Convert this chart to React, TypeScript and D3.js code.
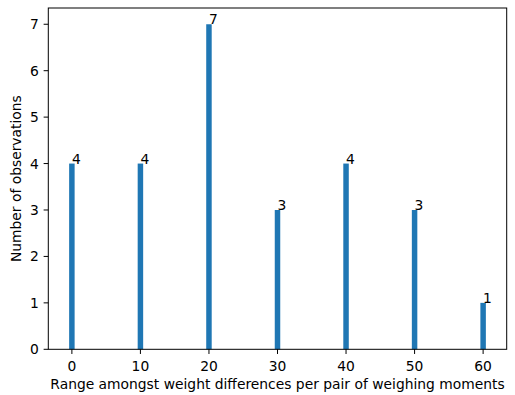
import React, { useEffect, useRef } from 'react';
import * as d3 from 'd3';

const ranges = [0, 10, 20, 30, 40, 50, 60];
const counts = [4, 4, 7, 3, 4, 3, 1];
const xTicks = [0, 10, 20, 30, 40, 50, 60];
const yTicks = [0, 1, 2, 3, 4, 5, 6, 7];

function App() {
  const svgRef = useRef<SVGSVGElement>(null);

  useEffect(() => {
    const svg = d3.select(svgRef.current);
    svg.selectAll('*').remove();

    const left = 48.3, right = 506.7, top = 8, bottom = 349.3;
    const barW = 0.8;
    const font = 'DejaVu Sans, sans-serif';
    const fs = 13.85;

    const xMin = d3.min(ranges)! - barW / 2;
    const xMax = d3.max(ranges)! + barW / 2;
    const pad = (xMax - xMin) * 0.05;
    const x = d3.scaleLinear().domain([xMin - pad, xMax + pad]).range([left, right]);
    const y = d3.scaleLinear().domain([0, d3.max(counts)! * 1.05]).range([bottom, top]);

    svg.append('rect')
      .attr('width', 515).attr('height', 395).attr('fill', '#fff');

    // bars
    svg.append('g')
      .selectAll('rect')
      .data(ranges)
      .enter().append('rect')
      .attr('x', d => x(d - barW / 2))
      .attr('y', (d, i) => y(counts[i]))
      .attr('width', d => x(d + barW / 2) - x(d - barW / 2))
      .attr('height', (d, i) => y(0) - y(counts[i]))
      .attr('fill', '#1f77b4');

    // value labels
    svg.append('g')
      .selectAll('text')
      .data(ranges)
      .enter().append('text')
      .attr('x', d => x(d))
      .attr('y', (d, i) => y(counts[i]))
      .attr('font-family', font)
      .attr('font-size', fs)
      .attr('fill', '#000')
      .text((d, i) => counts[i]);

    // frame
    svg.append('rect')
      .attr('x', left).attr('y', top)
      .attr('width', right - left).attr('height', bottom - top)
      .attr('fill', 'none').attr('stroke', '#000').attr('stroke-width', 1);

    // x ticks
    const xg = svg.append('g');
    xTicks.forEach(t => {
      xg.append('line')
        .attr('x1', x(t)).attr('x2', x(t))
        .attr('y1', bottom).attr('y2', bottom + 4.67)
        .attr('stroke', '#000');
      xg.append('text')
        .attr('x', x(t)).attr('y', 370.5)
        .attr('text-anchor', 'middle')
        .attr('font-family', font).attr('font-size', fs)
        .text(t);
    });

    // y ticks
    const yg = svg.append('g');
    yTicks.forEach(t => {
      yg.append('line')
        .attr('x1', left - 4.67).attr('x2', left)
        .attr('y1', y(t)).attr('y2', y(t))
        .attr('stroke', '#000');
      yg.append('text')
        .attr('x', left - 9.5).attr('y', y(t))
        .attr('dy', '0.36em')
        .attr('text-anchor', 'end')
        .attr('font-family', font).attr('font-size', fs)
        .text(t);
    });

    svg.append('text')
      .attr('x', (left + right) / 2).attr('y', 389)
      .attr('text-anchor', 'middle')
      .attr('font-family', font).attr('font-size', fs)
      .text('Range amongst weight differences per pair of weighing moments');

    svg.append('text')
      .attr('transform', `translate(21,${(top + bottom) / 2}) rotate(-90)`)
      .attr('text-anchor', 'middle')
      .attr('font-family', font).attr('font-size', fs)
      .text('Number of observations');
  }, []);

  return (
    <svg ref={svgRef} width="515" height="395"
      style={{ position: 'absolute', left: 0, top: 0 }}></svg>
  );
}

export default App;
